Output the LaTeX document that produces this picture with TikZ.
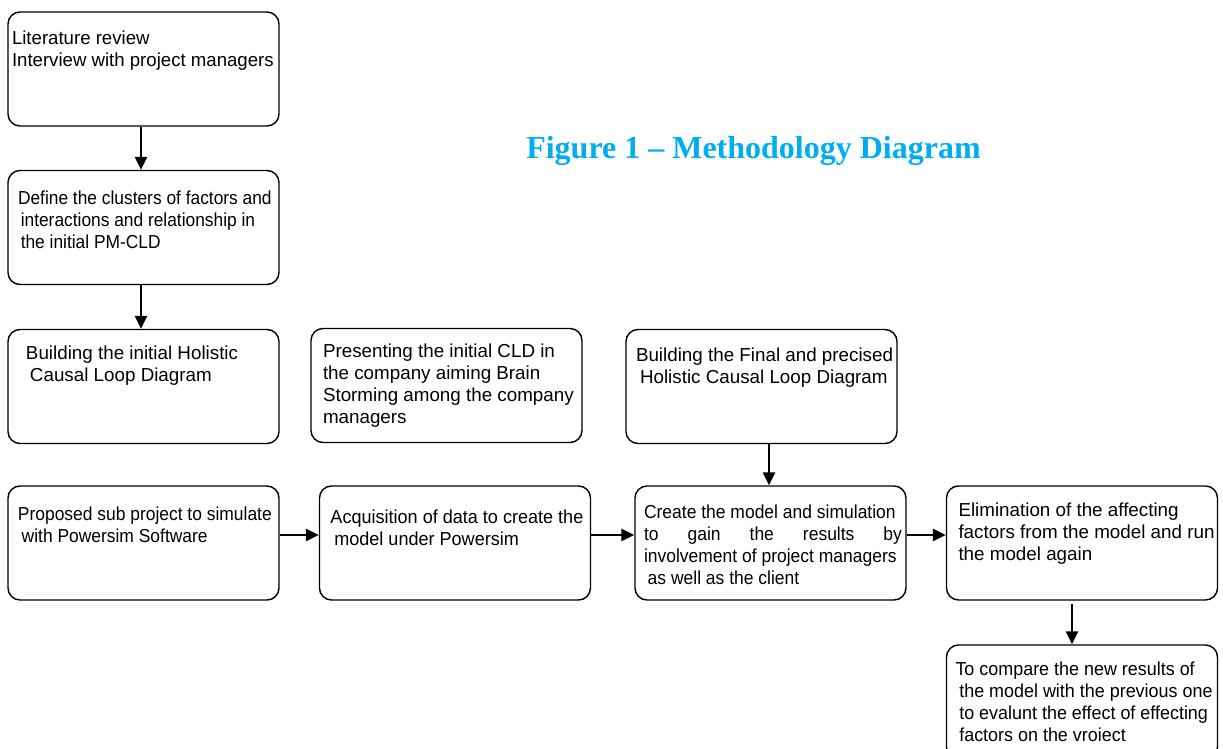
\documentclass[tikz,border=0pt]{standalone}
\usepackage{fontspec}
\usepackage{graphicx}
\setmainfont{Liberation Sans}
\newfontfamily\titlefont{Liberation Serif}
\usetikzlibrary{arrows.meta}
\definecolor{titleblue}{RGB}{0,174,239}

% text lines in a box: [x scale], left gap, top gap, lines
\newcommand{\boxlines}[4][1]{\parbox[c][57pt][t]{135.5pt}{\vspace*{#3}\hspace*{#2}\scalebox{#1}[1]{\begin{tabular}[t]{@{}l@{}}#4\end{tabular}}}}

\begin{document}
\begin{tikzpicture}[x=0.5pt, y=-0.5pt,
        stepbox/.style={draw, rounded corners=6pt, line width=0.7pt, inner sep=0pt, font=\fontsize{9.4}{11}\selectfont},
        flow/.style={-{Triangle[length=6.5pt, width=6pt]}, line width=1.2pt}]
        \useasboundingbox (0,0) rectangle (1223,749);

        % Title
        \node[text=titleblue, font=\titlefont\bfseries\fontsize{16}{19}\selectfont] (title) at (753.5,151) {Figure 1 – Methodology Diagram};

        % Left column
        \node[stepbox] (review) at (143.5,69) {\boxlines[0.99]{2pt}{8.8pt}{Literature review\\Interview with project managers}};
        \node[stepbox] (clusters) at (143.5,227.5) {\boxlines[0.923]{5pt}{9.3pt}{Define the clusters of factors and\\\hspace*{1.5pt}interactions and relationship in\\\hspace*{1.5pt}the initial PM-CLD}};
        \node[stepbox] (initcld) at (143.5,386.5) {\boxlines{9pt}{7.3pt}{Building the initial Holistic\\\hspace*{2pt}Causal Loop Diagram}};

        % Middle row
        \node[stepbox] (present) at (446.5,385.5) {\boxlines{6pt}{6.8pt}{Presenting the initial CLD in\\the company aiming Brain\\Storming among the company\\managers}};
        \node[stepbox] (finalcld) at (761.5,386.5) {\boxlines{5pt}{8.3pt}{Building the Final and precised\\\hspace*{2pt}Holistic Causal Loop Diagram}};

        % Bottom row
        \node[stepbox] (subproj) at (143.5,543) {\boxlines[0.927]{5pt}{9.3pt}{Proposed sub project to simulate\\\hspace*{2pt}with Powersim Software}};
        \node[stepbox] (acquire) at (455,543) {\boxlines[0.96]{5.5pt}{10.8pt}{Acquisition of data to create the\\\hspace*{2pt}model under Powersim}};
        \node[stepbox] (simulate) at (770.5,543) {\boxlines[0.93]{4.5pt}{8.3pt}{Create the model and simulation\\\makebox[138.7pt][s]{to gain the results by}\\involvement of project managers\\\hspace*{2pt}as well as the client}};
        \node[stepbox] (eliminate) at (1082,543) {\boxlines{6pt}{7.3pt}{Elimination of the affecting\\factors from the model and run\\the model again}};
        \node[stepbox] (compare) at (1082,702) {\boxlines[0.954]{4.5pt}{7.3pt}{To compare the new results of\\\hspace*{2pt}the model with the previous one\\\hspace*{2pt}to evalunt the effect of effecting\\\hspace*{2pt}factors on the vroiect}};

        % Arrows
        \draw[flow] ([xshift=-1.25pt]review.south) -- ([xshift=-1.25pt]clusters.north);
        \draw[flow] ([xshift=-1.25pt]clusters.south) -- ([xshift=-1.25pt]initcld.north);
        \draw[flow] ([xshift=-0.75pt]finalcld.south -| simulate) -- ([xshift=-0.75pt]simulate.north);
        \draw[flow] ([yshift=4pt]subproj.east) -- ([yshift=4pt]acquire.west);
        \draw[flow] ([yshift=4pt]acquire.east) -- ([yshift=4pt]simulate.west);
        \draw[flow] ([yshift=4pt]simulate.east) -- ([yshift=4pt]eliminate.west);
        \draw[flow] ([xshift=-5pt,yshift=-1.5pt]eliminate.south) -- ([xshift=-5pt]compare.north);
    \end{tikzpicture}
\end{document}
